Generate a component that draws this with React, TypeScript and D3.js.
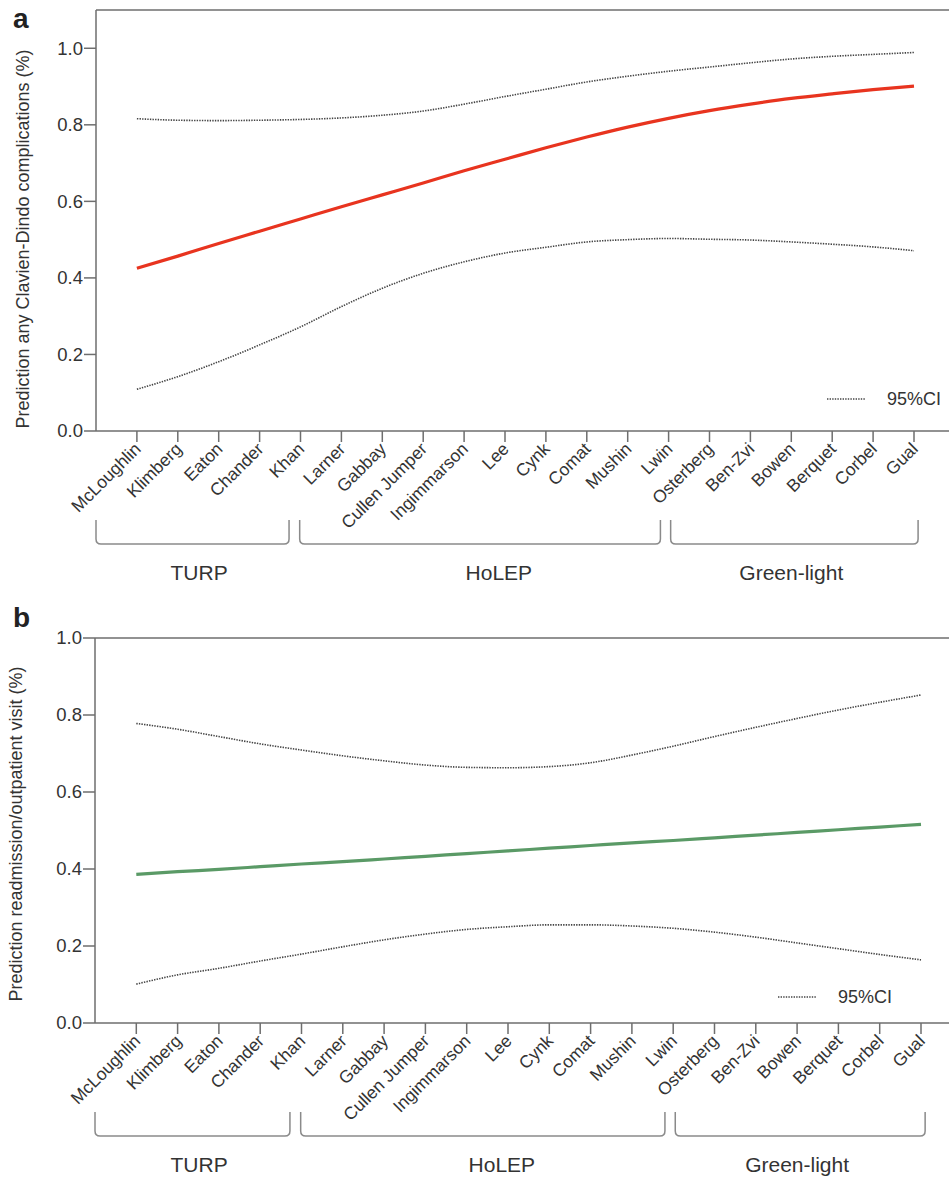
import React from "react";
import * as d3 from "d3";

const categories = [
  "McLoughlin", "Klimberg", "Eaton", "Chander", "Khan", "Larner", "Gabbay",
  "Cullen Jumper", "Ingimmarson", "Lee", "Cynk", "Comat", "Mushin", "Lwin",
  "Osterberg", "Ben-Zvi", "Bowen", "Berquet", "Corbel", "Gual",
];

// Panel a: any Clavien-Dindo complication
const complFit = [0.425, 0.457, 0.490, 0.522, 0.554, 0.586, 0.617, 0.648, 0.680, 0.710,
  0.740, 0.768, 0.794, 0.817, 0.837, 0.854, 0.869, 0.881, 0.892, 0.901];
const complUpper = [0.816, 0.812, 0.811, 0.812, 0.814, 0.818, 0.825, 0.836, 0.854, 0.874,
  0.893, 0.912, 0.927, 0.940, 0.951, 0.962, 0.972, 0.979, 0.984, 0.989];
const complLower = [0.109, 0.142, 0.181, 0.225, 0.272, 0.325, 0.373, 0.412, 0.442, 0.465,
  0.480, 0.494, 0.500, 0.503, 0.501, 0.499, 0.494, 0.488, 0.481, 0.471];

// Panel b: readmission / outpatient visit
const readmFit = [0.386, 0.393, 0.399, 0.406, 0.413, 0.419, 0.426, 0.433, 0.440, 0.447,
  0.454, 0.461, 0.468, 0.474, 0.481, 0.488, 0.495, 0.502, 0.509, 0.516];
const readmUpper = [0.778, 0.763, 0.744, 0.725, 0.709, 0.694, 0.681, 0.670, 0.664, 0.663,
  0.666, 0.676, 0.696, 0.719, 0.744, 0.768, 0.791, 0.813, 0.833, 0.852];
const readmLower = [0.101, 0.125, 0.142, 0.161, 0.179, 0.198, 0.216, 0.231, 0.243, 0.250,
  0.255, 0.255, 0.252, 0.246, 0.236, 0.223, 0.208, 0.193, 0.178, 0.164];

const yTicks = [0, 0.2, 0.4, 0.6, 0.8, 1.0];

const groupNames = ["TURP", "HoLEP", "Green-light"];
const groupStart = [0, 4.98, 14.05];
const groupEnd = [4.72, 13.8, 20.1];
const groupLabelPos = [2.52, 9.85, 17.0];

const FONT = "'Liberation Sans', Arial, Helvetica, sans-serif";
const AXIS = "#6e6e6e";
const TEXT = "#333";

type PanelProps = {
  letter: string;
  letterY: number;
  top: number;
  bottom: number;
  yMax: number;
  xLeft: number;
  step: number;
  fit: number[];
  upper: number[];
  lower: number[];
  color: string;
  title: string;
  titleX: number;
  titleY: number;
  legendX: number;
  legendY: number;
};

function Panel(p: PanelProps) {
  const x = d3.scaleLinear().domain([0, 1]).range([p.xLeft, p.xLeft + p.step]);
  const y = d3.scaleLinear().domain([0, p.yMax]).range([p.bottom, p.top]);
  const line = d3
    .line<number>()
    .x((_, i) => x(i + 1))
    .y((d) => y(d))
    .curve(d3.curveMonotoneX);
  const W = 960;
  const bracketTop = p.bottom + 89;
  const bracketBot = p.bottom + 113;
  const r = 5;
  return (
    <g>
      <text x={13} y={p.letterY} fontFamily={FONT} fontWeight="bold" fontSize={28} fill="#222">
        {p.letter}
      </text>
      {/* frame */}
      <line x1={x(0)} x2={W} y1={p.top} y2={p.top} stroke={AXIS} strokeWidth={1.5} />
      <line x1={x(0)} x2={x(0)} y1={p.top} y2={p.bottom} stroke={AXIS} strokeWidth={1.5} />
      <line x1={x(0)} x2={W} y1={p.bottom} y2={p.bottom} stroke={AXIS} strokeWidth={1.5} />
      {/* y ticks */}
      {yTicks.map((t) => (
        <g key={t}>
          <line x1={x(0) - 12} x2={x(0)} y1={y(t)} y2={y(t)} stroke={AXIS} strokeWidth={1.5} />
          <text
            x={x(0) - 13}
            y={y(t)}
            dy="0.35em"
            textAnchor="end"
            fontFamily={FONT}
            fontSize={18.5}
            fill={TEXT}
          >
            {t.toFixed(1)}
          </text>
        </g>
      ))}
      {/* x ticks */}
      {categories.map((c, i) => (
        <g key={c}>
          <line x1={x(i + 1)} x2={x(i + 1)} y1={p.bottom} y2={p.bottom + 11} stroke={AXIS} strokeWidth={1.5} />
          <text
            transform={`translate(${x(i + 1) + 5},${p.bottom + 19}) rotate(-45)`}
            textAnchor="end"
            fontFamily={FONT}
            fontSize={17.5}
            fill={TEXT}
          >
            {c}
          </text>
        </g>
      ))}
      {/* y title */}
      <text
        transform={`translate(${p.titleX},${p.titleY}) rotate(-90)`}
        textAnchor="middle"
        dy="0.35em"
        fontFamily={FONT}
        fontSize={18}
        fill={TEXT}
      >
        {p.title}
      </text>
      {/* curves */}
      <path d={line(p.upper) || ""} fill="none" stroke="#444" strokeWidth={1.6} strokeDasharray="1.4,1.2" />
      <path d={line(p.lower) || ""} fill="none" stroke="#444" strokeWidth={1.6} strokeDasharray="1.4,1.2" />
      <path d={line(p.fit) || ""} fill="none" stroke={p.color} strokeWidth={3.2} />
      {/* legend */}
      <line x1={p.legendX} x2={p.legendX + 38} y1={p.legendY} y2={p.legendY} stroke="#444" strokeWidth={1.6} strokeDasharray="1.4,1.2" />
      <text x={p.legendX + 60} y={p.legendY} dy="0.35em" fontFamily={FONT} fontSize={18} fill={TEXT}>
        95%CI
      </text>
      {/* group brackets */}
      {groupNames.map((g, i) => {
        const x0 = x(groupStart[i]);
        const x1 = x(groupEnd[i]);
        const d = `M${x0},${bracketTop} L${x0},${bracketBot - r} Q${x0},${bracketBot} ${x0 + r},${bracketBot} L${x1 - r},${bracketBot} Q${x1},${bracketBot} ${x1},${bracketBot - r} L${x1},${bracketTop}`;
        return (
          <g key={g}>
            <path d={d} fill="none" stroke="#8a8a8a" strokeWidth={1.5} />
            <text
              x={x(groupLabelPos[i])}
              y={bracketBot + 29}
              dy="0.35em"
              textAnchor="middle"
              fontFamily={FONT}
              fontSize={21}
              fill={TEXT}
            >
              {g}
            </text>
          </g>
        );
      })}
    </g>
  );
}

export default function App() {
  return (
    <svg
      width={949}
      height={1188}
      style={{ position: "absolute", left: 0, top: 0, background: "#fff" }}
    >
      <rect width={949} height={1188} fill="#fff" />
      <Panel
        letter="a"
        letterY={28}
        top={10}
        bottom={431}
        yMax={1.1}
        xLeft={96}
        step={40.9}
        fit={complFit}
        upper={complUpper}
        lower={complLower}
        color="#e8341f"
        title="Prediction any Clavien-Dindo complications (%)"
        titleX={23}
        titleY={239}
        legendX={827}
        legendY={399}
      />
      <Panel
        letter="b"
        letterY={627}
        top={638}
        bottom={1023}
        yMax={1.0}
        xLeft={95}
        step={41.3}
        fit={readmFit}
        upper={readmUpper}
        lower={readmLower}
        color="#5a9a66"
        title="Prediction readmission/outpatient visit (%)"
        titleX={16}
        titleY={834}
        legendX={778}
        legendY={997}
      />
    </svg>
  );
}
